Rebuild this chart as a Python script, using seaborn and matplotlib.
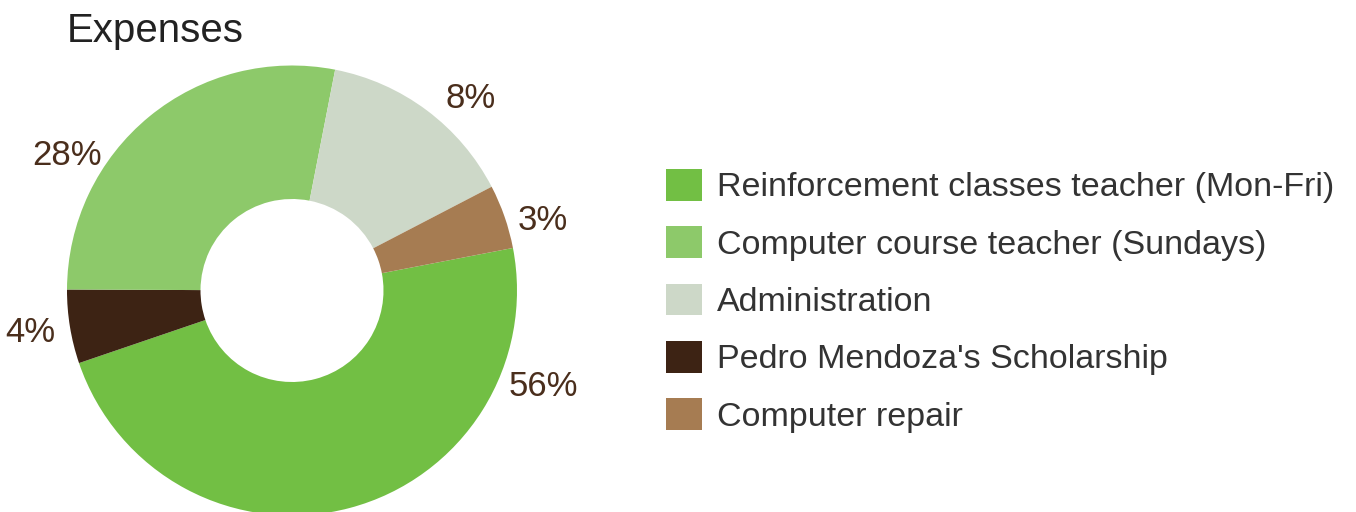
import matplotlib
matplotlib.use("Agg")
import matplotlib.pyplot as plt
from matplotlib.patches import Patch
import seaborn as sns

# legend order
categories = ["Reinforcement classes teacher (Mon-Fri)",
              "Computer course teacher (Sundays)",
              "Administration",
              "Pedro Mendoza's Scholarship",
              "Computer repair"]
shares = [47.8, 28.0, 14.3, 5.3, 4.6]
pct_labels = ["56%", "28%", "8%", "4%", "3%"]
colors = ["#72bf44", "#8dc96a", "#cdd8c8", "#3d2314", "#a67c52"]

# wedges run clockwise starting with the big green one
wedge_order = [0, 3, 1, 2, 4]

sns.set_theme(style="white")
plt.rcParams["font.family"] = ["Liberation Sans", "DejaVu Sans"]

W, H = 1356, 512
fig = plt.figure(figsize=(W / 100, H / 100), dpi=100)
ax = fig.add_axes([0, 0, 1, 1])

cx, cy, r_out, r_in = 292, H - 290.5, 225, 91.5
ax.pie([shares[i] for i in wedge_order],
       colors=[colors[i] for i in wedge_order],
       startangle=10.9, counterclock=False,
       center=(cx, cy), radius=r_out,
       wedgeprops={"width": r_out - r_in, "linewidth": 0})

ax.set_xlim(0, W)
ax.set_ylim(0, H)
ax.set_aspect("equal")
ax.axis("off")

# percentage labels (centre x, baseline y in pixels from top)
label_pos = [(543.5, 395.5), (67, 165), (471, 108), (30.5, 342), (542.5, 230)]
for txt, (x, y) in zip(pct_labels, label_pos):
    ax.text(x, H - y, txt, ha="center", va="baseline",
            fontsize=25, color="#4a2e1c")

ax.text(67, H - 42, "Expenses", fontsize=29, color="#222222", va="baseline")

handles = [Patch(facecolor=c, edgecolor="none") for c in colors]
leg = ax.legend(handles, categories, loc="upper left",
                bbox_to_anchor=(666, H - 169), bbox_transform=ax.transData,
                frameon=False, fontsize=24.5, borderpad=0, borderaxespad=0,
                handlelength=36 / 34, handleheight=36 / 34,
                handletextpad=0.45, labelspacing=0.67)
for t in leg.get_texts():
    t.set_color("#333333")

fig.savefig("out.png", dpi=100)
